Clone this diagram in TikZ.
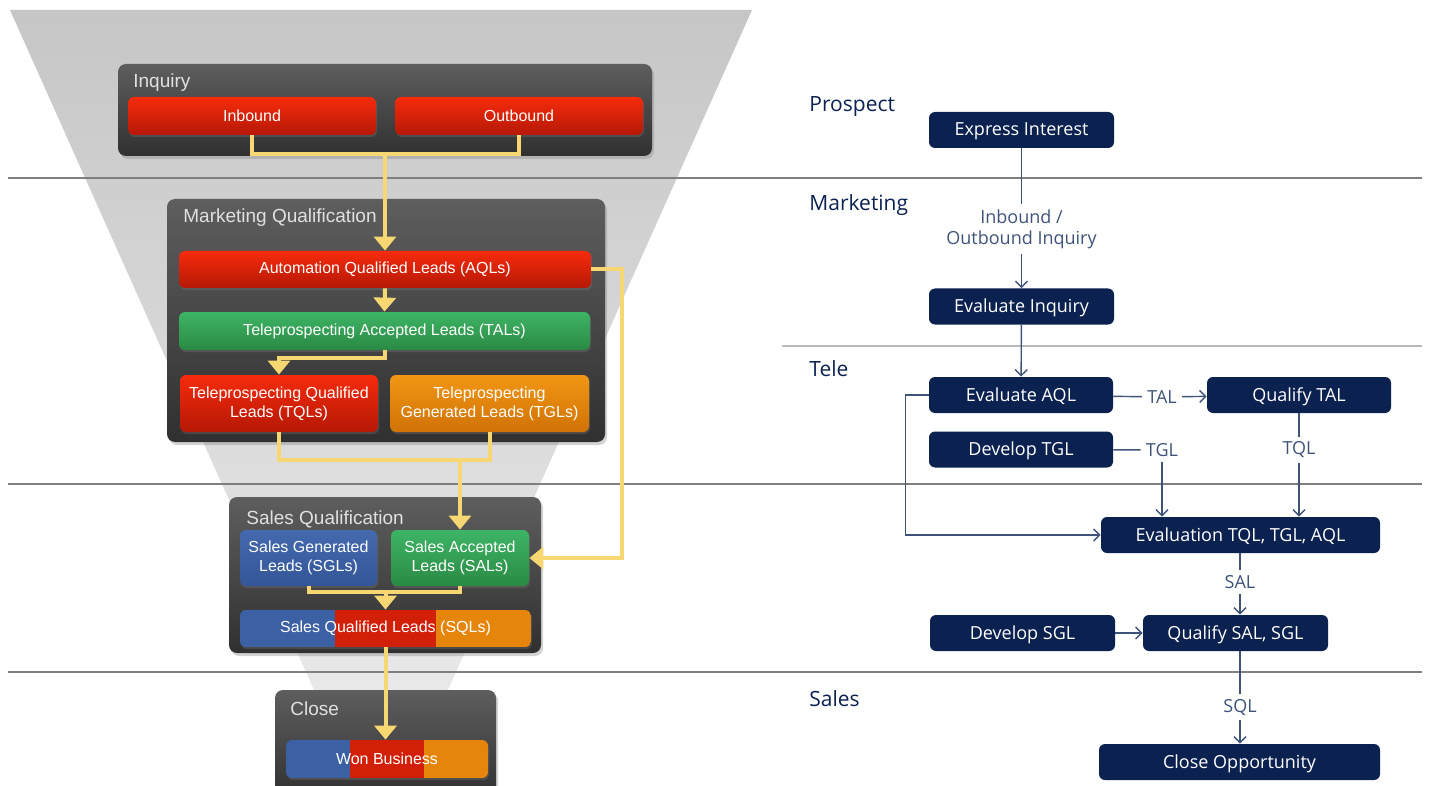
\documentclass[tikz,border=0pt]{standalone}
\usepackage{fontspec}
\setmainfont{Open Sans}
\newfontfamily\funnelfont{Liberation Sans}
\usetikzlibrary{arrows.meta,shadows}

\definecolor{funneltop}{HTML}{C6C6C6}
\definecolor{funnelbottom}{HTML}{EDEDED}
\definecolor{panetop}{HTML}{5E5E5E}
\definecolor{panebottom}{HTML}{303030}
\definecolor{redtop}{HTML}{F62B0C}
\definecolor{redbot}{HTML}{B51805}
\definecolor{greentop}{HTML}{3DB466}
\definecolor{greenbot}{HTML}{2A8A43}
\definecolor{orangetop}{HTML}{F29614}
\definecolor{orangebot}{HTML}{D07206}
\definecolor{bluetop}{HTML}{4469AE}
\definecolor{bluebot}{HTML}{335698}
\definecolor{leadred}{HTML}{D11F08}
\definecolor{leadblue}{HTML}{3B60A3}
\definecolor{leadorange}{HTML}{E5850C}
\definecolor{feedyellow}{HTML}{F6D772}
\definecolor{navy}{HTML}{0B2150}
\definecolor{flowgray}{HTML}{3F5379}
\definecolor{rulegray}{HTML}{7F7F7F}

\tikzset{
	pane/.style={rounded corners=4pt, top color=panetop, bottom color=panebottom, inner sep=0pt,
		drop shadow={opacity=0.35, shadow xshift=1pt, shadow yshift=-1.5pt}},
	panelabel/.style={anchor=west, inner sep=0pt, text=white!88!black, font=\funnelfont\fontsize{9.5}{11}\selectfont},
	lead/.style={rounded corners=3pt, inner sep=0pt, align=center, text=white,
		font=\funnelfont\fontsize{8}{9.6}\selectfont,
		drop shadow={opacity=0.3, shadow xshift=0.5pt, shadow yshift=-1pt}},
	redlead/.style={lead, top color=redtop, bottom color=redbot},
	greenlead/.style={lead, top color=greentop, bottom color=greenbot},
	orangelead/.style={lead, top color=orangetop, bottom color=orangebot},
	bluelead/.style={lead, top color=bluetop, bottom color=bluebot},
	tricolor/.style 2 args={lead, path picture={
		\fill[leadblue, sharp corners] (path picture bounding box.south west) rectangle ([xshift=#1]path picture bounding box.north west);
		\fill[leadred, sharp corners] ([xshift=#1]path picture bounding box.south west) rectangle ([xshift=#2]path picture bounding box.north west);
		\fill[leadorange, sharp corners] ([xshift=#2]path picture bounding box.south west) rectangle (path picture bounding box.north east);}},
	feedline/.style={draw=feedyellow, line width=2pt},
	feed/.style={feedline, -{Triangle[width=11pt,length=7pt]}},
	stepbox/.style={fill=navy, rounded corners=3pt, inner sep=0pt, minimum height=18pt, text=white,
		text height=7.2pt, text depth=1.2pt, font=\fontsize{9}{11}\selectfont},
	lane/.style={anchor=west, inner sep=0pt, text=navy, font=\fontsize{10.5}{12}\selectfont},
	flowlabel/.style={inner sep=2.5pt, align=center, text=flowgray, font=\fontsize{9}{10.5}\selectfont},
	flow/.style={draw=flowgray, line width=0.7pt},
	flowarrow/.style={flow, -{Straight Barb[length=3pt,width=6pt]}},
	lanerule/.style={draw=rulegray, line width=1.2pt},
}

\begin{document}
\begin{tikzpicture}[x=0.5pt, y=-0.5pt]
	\useasboundingbox (0,0) rectangle (1429,786);
	% funnel and lane rules
	\shade[top color=funneltop, bottom color=funnelbottom] (10,10) -- (752,10) -- (405,786) -- (357,786) -- cycle;
	\draw[lanerule] (8,178) -- (1422,178);
	\draw[lanerule] (8,484) -- (1422,484);
	\draw[lanerule] (8,672) -- (1422,672);
	\draw[draw=rulegray!55, line width=0.6pt] (782,346) -- (1422,346);

	% stages
	\node[pane, minimum width=267pt, minimum height=46pt] (inquiry) at (385,110) {};
	\node[panelabel] at (133,83) {Inquiry};
	\node[redlead, minimum width=124pt, minimum height=19pt] (inbound) at (252,116) {Inbound};
	\node[redlead, minimum width=124pt, minimum height=19pt] (outbound) at (519,116) {Outbound};

	\node[pane, minimum width=219pt, minimum height=121.5pt] (mq) at (386,320.5) {};
	\node[panelabel] at (183,218) {Marketing Qualification};
	\node[redlead, minimum width=206pt, minimum height=18.5pt] (aql) at (385,269.5) {Automation Qualified Leads (AQLs)};
	\node[greenlead, minimum width=205.5pt, minimum height=19pt] (tal) at (384.5,331) {Teleprospecting Accepted Leads (TALs)};
	\node[redlead, minimum width=99pt, minimum height=28.5pt] (tql) at (279,403.5) {Teleprospecting Qualified\\Leads (TQLs)};
	\node[orangelead, minimum width=99.5pt, minimum height=28.5pt] (tgl) at (489.5,403.5) {Teleprospecting\\Generated Leads (TGLs)};

	\node[pane, minimum width=156pt, minimum height=78pt] (sq) at (385,575) {};
	\node[panelabel] at (246,519) {Sales Qualification};
	\node[bluelead, minimum width=68.5pt, minimum height=28pt] (sgl) at (308.5,558) {Sales Generated\\Leads (SGLs)};
	\node[greenlead, minimum width=69pt, minimum height=28pt] (sal) at (460,558) {Sales Accepted\\Leads (SALs)};
	\node[tricolor={47.5pt}{98pt}, minimum width=145.5pt, minimum height=18.5pt] (sql) at (385.5,628.5) {Sales Qualified Leads (SQLs)};

	\node[pane, minimum width=110.5pt, minimum height=55pt] (close) at (385.5,745) {};
	\node[panelabel] at (290,709) {Close};
	\node[tricolor={32pt}{69pt}, minimum width=101pt, minimum height=19pt] (won) at (387,759) {Won Business};

	% lead flow
	\coordinate (inqmerge) at (385,154);
	\coordinate (mqmerge) at (460,460);
	\coordinate (sqmerge) at (385.5,592);
	\draw[feedline] (inbound.south) |- (inqmerge) -| (outbound.south);
	\draw[feed] (inqmerge) -- (aql.north);
	\draw[feed] (aql.south) -- (tal.north);
	\draw[feed] (tal.south) -- ++(0,8) -| (tql.north);
	\draw[feed] (aql.east) -- ++(31,0) |- (sal.east);
	\draw[feedline] (tql.south) |- (mqmerge) -| (tgl.south);
	\draw[feed] (mqmerge) -- (sal.north);
	\draw[feedline] (sgl.south) |- (sqmerge) -| (sal.south);
	\draw[feed] (sqmerge) -- (sql.north);
	\draw[feed] (sql.south) -- (sql.south |- won.north);

	% process lanes
	\node[lane] at (809,107) {Prospect};
	\node[lane] at (809,205) {Marketing};
	\node[lane] at (809,369) {Tele};
	\node[lane] at (809,699) {Sales};

	\node[stepbox, minimum width=92.5pt] (express) at (1021.5,130) {Express Interest};
	\node[flowlabel] (inqlbl) at (1021.5,229) {Inbound /\\Outbound Inquiry};
	\node[stepbox, minimum width=92.5pt] (evalinq) at (1021.5,306.5) {Evaluate Inquiry};
	\node[stepbox, minimum width=92pt] (evalaql) at (1021,395) {Evaluate AQL};
	\node[stepbox, minimum width=92pt] (devtgl) at (1021,449.5) {Develop TGL};
	\node[flowlabel] (tallbl) at (1162,397) {TAL};
	\node[flowlabel] (tgllbl) at (1162,450) {TGL};
	\node[stepbox, minimum width=92pt] (qualtal) at (1299,395) {Qualify TAL};
	\node[flowlabel] (tqllbl) at (1299,450) {TQL};
	\node[stepbox, minimum width=139.5pt] (evaltri) at (1240.5,535) {Evaluation TQL, TGL, AQL};
	\node[flowlabel] (sallbl) at (1240,582) {SAL};
	\node[stepbox, minimum width=92.5pt] (devsgl) at (1022.5,633) {Develop SGL};
	\node[stepbox, minimum width=92.5pt] (qualsal) at (1235.5,633) {Qualify SAL, SGL};
	\node[flowlabel] (sqllbl) at (1240,707) {SQL};
	\node[stepbox, minimum width=140.5pt] (closeopp) at (1239.5,762) {Close Opportunity};

	\draw[flow] (express) -- (inqlbl);
	\draw[flowarrow] (inqlbl) -- (evalinq);
	\draw[flowarrow] (evalinq) -- (evalaql);
	\draw[flow] (evalaql) -- (tallbl);
	\draw[flowarrow] (tallbl) -- (qualtal);
	\draw[flow] (devtgl) -- (tgllbl);
	\draw[flowarrow] (tgllbl) -- (tgllbl |- evaltri.north);
	\draw[flow] (qualtal) -- (tqllbl);
	\draw[flowarrow] (tqllbl) -- (tqllbl |- evaltri.north);
	\draw[flowarrow] (evalaql.west) -- ++(-23,0) |- (evaltri.west);
	\draw[flow] (evaltri.south -| sallbl) -- (sallbl);
	\draw[flowarrow] (sallbl) -- (sallbl |- qualsal.north);
	\draw[flowarrow] (devsgl) -- (qualsal);
	\draw[flow] (qualsal.south -| sqllbl) -- (sqllbl);
	\draw[flowarrow] (sqllbl) -- (sqllbl |- closeopp.north);
\end{tikzpicture}
\end{document}
